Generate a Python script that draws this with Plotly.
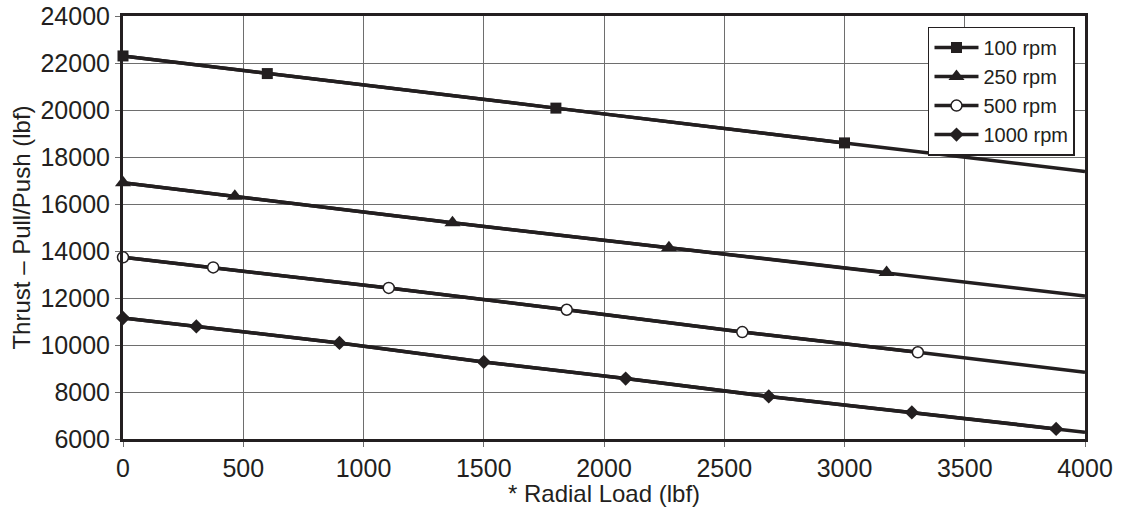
import plotly.graph_objects as go

# ---- data ----
x_max = 4000

rpm100_x = [0, 600, 1800, 3000]
rpm100_y = [22300, 21550, 20080, 18600]
rpm100_end = 17380

rpm250_x = [0, 465, 1370, 2270, 3175]
rpm250_y = [16900, 16330, 15200, 14140, 13080]
rpm250_end = 12080

rpm500_x = [0, 375, 1105, 1845, 2575, 3305]
rpm500_y = [13730, 13300, 12430, 11500, 10550, 9690]
rpm500_end = 8840

rpm1000_x = [0, 305, 900, 1500, 2090, 2685, 3280, 3880]
rpm1000_y = [11150, 10790, 10090, 9280, 8570, 7810, 7130, 6430]
rpm1000_end = 6290

x_ticks = [0, 500, 1000, 1500, 2000, 2500, 3000, 3500, 4000]
y_ticks = [6000, 8000, 10000, 12000, 14000, 16000, 18000, 20000, 22000, 24000]

series = [
    ("100 rpm", rpm100_x, rpm100_y, rpm100_end, "square", 11, "#231f20"),
    ("250 rpm", rpm250_x, rpm250_y, rpm250_end, "triangle-up", 14, "#231f20"),
    ("500 rpm", rpm500_x, rpm500_y, rpm500_end, "circle", 11, "white"),
    ("1000 rpm", rpm1000_x, rpm1000_y, rpm1000_end, "diamond", 11, "#231f20"),
]

INK = "#231f20"
GRID = "#6e6e6e"
FONT = "Liberation Sans, Arial, sans-serif"

fig = go.Figure()
for name, xs, ys, yend, sym, size, fill in series:
    fig.add_trace(go.Scatter(
        x=xs + [x_max], y=ys + [yend], mode="lines",
        line=dict(color=INK, width=3.5), showlegend=False,
        hoverinfo="skip"))
    fig.add_trace(go.Scatter(
        x=xs, y=ys, mode="lines+markers", name=name,
        line=dict(color=INK, width=3.5),
        marker=dict(symbol=sym, size=size, color=fill,
                    line=dict(color=INK, width=1.5 if fill == "white" else 0)),
        cliponaxis=False))

fig.update_layout(
    width=1121, height=507,
    margin=dict(l=123, r=36, t=16, b=68),
    paper_bgcolor="white", plot_bgcolor="white",
    font=dict(family=FONT, size=25, color=INK),
    showlegend=True,
    legend=dict(
        x=0.9896, y=0.975, xanchor="right", yanchor="top",
        bgcolor="white", bordercolor=INK, borderwidth=1.5,
        font=dict(family=FONT, size=20, color=INK),
        tracegroupgap=0, itemwidth=44,
    ),
)

fig.update_xaxes(
    range=[0, x_max], tickvals=x_ticks, tickformat="d",
    showgrid=True, gridcolor=GRID, gridwidth=1, zeroline=False,
    showline=True, linecolor=INK, linewidth=3, mirror=True,
    ticks="outside", ticklen=5, tickcolor=GRID, tickwidth=1,
    tickfont=dict(size=25), automargin=False,
    title=dict(text="* Radial Load (lbf)", font=dict(size=24), standoff=6),
)
fig.update_yaxes(
    range=[6000, 24000], tickvals=y_ticks, tickformat="d",
    showgrid=True, gridcolor=GRID, gridwidth=1, zeroline=False,
    showline=True, linecolor=INK, linewidth=3, mirror=True,
    ticks="outside", ticklen=5, tickcolor=GRID, tickwidth=1,
    tickfont=dict(size=25), automargin=False,
    title=dict(text="Thrust – Pull/Push (lbf)", font=dict(size=24), standoff=4),
)

fig.write_html(
    "out.html",
    config={"displayModeBar": False},
    post_script="document.body.style.margin='0';document.body.style.overflow='hidden';",
)
